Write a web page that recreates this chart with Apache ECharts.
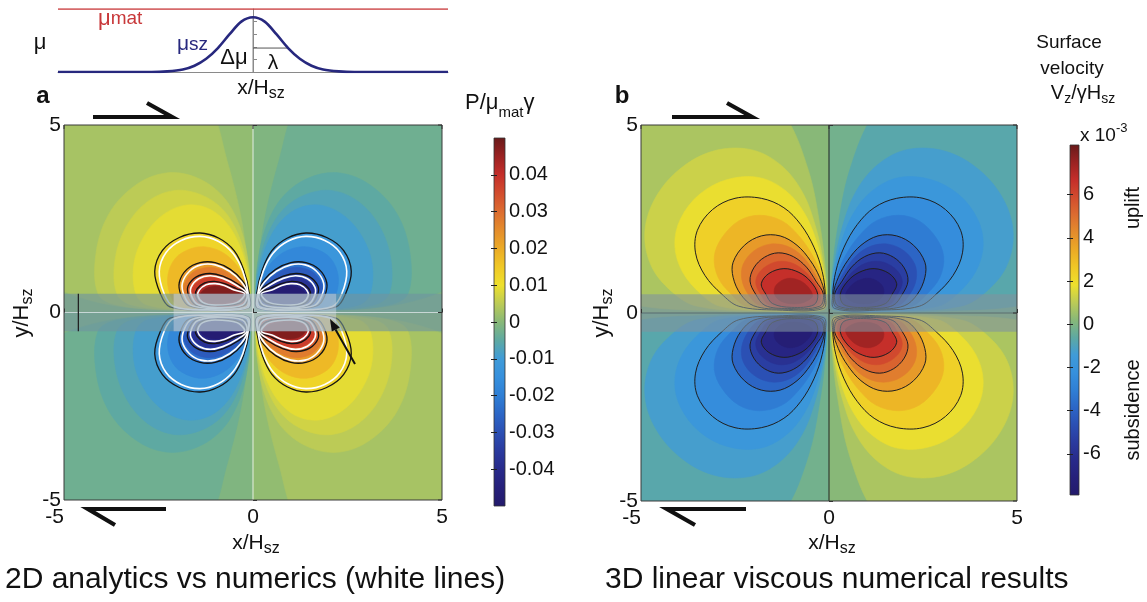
<!DOCTYPE html>
<html><head><meta charset="utf-8">
<script src="https://cdn.jsdelivr.net/npm/echarts@6/dist/echarts.min.js"></script>
<style>html,body{margin:0;padding:0;background:#fff}#c{width:1147px;height:602px}</style>
</head><body><div id="c"></div>
<script>
// ================= DATA =================
// inset: viscosity profile mu(x/Hsz), normalised so that mu_mat = 1
const profileX  = [-5, -2.6, -2.2, -1.8, -1.5, -1.2, -0.9, -0.6, -0.3, 0, 0.3, 0.6, 0.9, 1.2, 1.5, 1.8, 2.2, 2.6, 5];
const profileMu = [0, 0, 0.01, 0.04, 0.1, 0.21, 0.38, 0.6, 0.8, 0.87, 0.8, 0.6, 0.38, 0.21, 0.1, 0.04, 0.01, 0, 0];
const muMat = 1.0;
const muPeak = 0.87;      // top of the bump (delta mu marker)
const halfLevel = 0.38;   // level of lambda marker
const lambdaHalf = 0.9;   // half width lambda

// panel a: P/(mu_mat*gamma) contour levels and contour curves of the upper-left (positive) lobe,
// flat [x, y, x, y ...] lists in x/Hsz, y/Hsz. The other lobes are mirror images in the figure.
const levelsA = [0.002, 0.004, 0.006, 0.008, 0.010, 0.015, 0.020, 0.025, 0.030, 0.035, 0.040, 0.045];
const contoursA = [
  [-0.08,0.5, -0.15,1.4, -0.35,2.7, -0.7,4.1, -1.1,5.4, -2.2,6.8, -4,7.4, -6,6.5, -7.2,4.5, -7,2.4, -5.8,1.0, -4,0.25, -1.5,0.05, -0.15,0.12],
  [-0.08,0.5, -0.12,1.3, -0.35,2.3, -0.8,3.1, -1.5,3.6, -2.3,3.72, -3.1,3.4, -3.8,2.65, -4.15,1.6, -4.1,0.5, -3.6,0.2, -2,0.06, -0.15,0.1],
  [-0.08,0.5, -0.14,1.2, -0.4,2.1, -0.8,2.75, -1.4,3.15, -2.1,3.25, -2.8,2.95, -3.35,2.3, -3.65,1.4, -3.6,0.5, -3.2,0.2, -1.8,0.06, -0.15,0.1],
  [-0.08,0.5, -0.15,1.1, -0.38,1.85, -0.75,2.45, -1.25,2.8, -1.85,2.85, -2.45,2.55, -2.9,2.0, -3.15,1.3, -3.1,0.5, -2.8,0.2, -1.6,0.07, -0.15,0.1],
  [-0.1,0.52, -0.25,1.15, -0.5,1.65, -0.9,1.98, -1.4,2.12, -1.95,2.0, -2.4,1.65, -2.6,1.1, -2.45,0.5, -2.2,0.15, -1.2,0.06, -0.12,0.12],
  [-0.1,0.5, -0.2,0.85, -0.42,1.25, -0.8,1.6, -1.25,1.75, -1.65,1.7, -2.05,1.45, -2.25,1.0, -2.2,0.5, -1.95,0.16, -1.1,0.07, -0.13,0.12],
  [-0.11,0.5, -0.28,0.85, -0.6,1.15, -1.0,1.33, -1.4,1.33, -1.75,1.15, -1.95,0.8, -1.9,0.45, -1.7,0.18, -1.0,0.09, -0.15,0.14],
  [-0.12,0.5, -0.3,0.76, -0.6,1.02, -0.95,1.18, -1.3,1.19, -1.62,1.05, -1.82,0.75, -1.8,0.45, -1.6,0.19, -1.0,0.1, -0.2,0.16],
  [-0.13,0.5, -0.4,0.76, -0.8,0.97, -1.15,1.04, -1.5,0.95, -1.72,0.7, -1.7,0.45, -1.52,0.2, -1.0,0.12, -0.25,0.18],
  [-0.15,0.5, -0.4,0.7, -0.75,0.86, -1.08,0.93, -1.38,0.87, -1.6,0.67, -1.62,0.45, -1.45,0.22, -1.0,0.15, -0.3,0.22],
  [-0.17,0.5, -0.45,0.64, -0.75,0.77, -1.02,0.83, -1.28,0.79, -1.48,0.63, -1.52,0.45, -1.38,0.25, -1.0,0.18, -0.35,0.25],
  [-0.25,0.5, -0.5,0.6, -0.8,0.68, -1.05,0.7, -1.28,0.62, -1.4,0.47, -1.3,0.3, -1.0,0.24, -0.5,0.3]
];
const blackIdxA = [4, 6, 8, 10];            // analytic contours 0.01 .. 0.04 (black)
const whiteContoursA = [                    // numerical contours 0.01 .. 0.04 (white)
  [-0.13,0.52, -0.27,1.1, -0.53,1.58, -0.92,1.9, -1.4,2.03, -1.9,1.92, -2.3,1.6, -2.48,1.1, -2.35,0.5, -2.1,0.16, -1.2,0.07, -0.15,0.13],
  [-0.14,0.5, -0.31,0.82, -0.62,1.1, -1.0,1.27, -1.38,1.27, -1.68,1.1, -1.87,0.78, -1.82,0.45, -1.63,0.19, -1.0,0.1, -0.18,0.15],
  [-0.16,0.5, -0.43,0.72, -0.8,0.91, -1.13,0.98, -1.44,0.9, -1.64,0.67, -1.63,0.45, -1.47,0.22, -1.0,0.13, -0.28,0.2],
  [-0.22,0.5, -0.5,0.6, -0.76,0.72, -1.0,0.77, -1.24,0.74, -1.42,0.6, -1.46,0.45, -1.33,0.27, -1.0,0.2, -0.42,0.27]
];
const bgA = 0.001;

// panel b: surface velocity Vz/(gamma Hsz) in units of 1e-3
const levelsB = [0.5, 1.0, 1.5, 2.0, 2.75, 3.5, 4.25, 5.0, 5.6, 6.3, 7.0];
const contoursB = [
  [-0.06,0.5, -0.08,1.0, -0.22,2.2, -0.55,3.8, -1.2,5.3, -2.2,6.2, -3.5,6.4, -5,5.8, -6.2,4.6, -6.8,3.0, -6.7,1.5, -5.8,0.4, -3,0.05, -0.15,0.08],
  [-0.07,0.5, -0.13,1.2, -0.33,2.2, -0.7,3.2, -1.3,3.95, -2.1,4.35, -3.1,4.3, -4.0,3.8, -4.65,3.0, -4.9,2.1, -4.7,1.2, -4.1,0.5, -3.5,0.18, -2,0.05, -0.15,0.1],
  [-0.08,0.5, -0.13,1.0, -0.3,1.8, -0.65,2.65, -1.15,3.25, -1.85,3.6, -2.7,3.55, -3.45,3.15, -3.95,2.5, -4.1,1.8, -3.9,1.1, -3.4,0.5, -2.9,0.18, -1.6,0.06, -0.15,0.1],
  [-0.1,0.5, -0.18,1.1, -0.4,1.75, -0.75,2.35, -1.2,2.8, -1.8,3.05, -2.5,3.05, -3.1,2.75, -3.5,2.2, -3.55,1.6, -3.3,1.0, -2.85,0.5, -2.4,0.18, -1.4,0.08, -0.15,0.12],
  [-0.1,0.5, -0.2,1.0, -0.45,1.55, -0.8,2.05, -1.25,2.45, -1.85,2.6, -2.4,2.45, -2.85,2.0, -3.05,1.5, -2.95,0.95, -2.6,0.5, -2.2,0.18, -1.3,0.09, -0.17,0.14],
  [-0.12,0.5, -0.25,0.95, -0.5,1.4, -0.85,1.8, -1.3,2.05, -1.8,2.05, -2.25,1.8, -2.55,1.35, -2.55,0.95, -2.35,0.5, -2.0,0.19, -1.2,0.1, -0.2,0.15],
  [-0.13,0.5, -0.22,0.75, -0.42,1.12, -0.72,1.52, -1.12,1.78, -1.58,1.83, -2.0,1.65, -2.28,1.3, -2.32,0.9, -2.15,0.5, -1.85,0.2, -1.15,0.11, -0.22,0.16],
  [-0.15,0.5, -0.35,0.85, -0.6,1.22, -0.95,1.5, -1.35,1.6, -1.72,1.48, -2.0,1.2, -2.1,0.85, -1.95,0.5, -1.7,0.2, -1.1,0.12, -0.25,0.18],
  [-0.22,0.5, -0.42,0.86, -0.7,1.16, -1.05,1.35, -1.45,1.35, -1.82,1.12, -1.95,0.82, -1.82,0.5, -1.6,0.22, -1.05,0.13, -0.32,0.2],
  [-0.3,0.5, -0.5,0.85, -0.8,1.08, -1.2,1.18, -1.6,1.05, -1.8,0.78, -1.68,0.5, -1.5,0.25, -1.0,0.15, -0.4,0.22],
  [-0.45,0.42, -0.5,0.62, -0.75,0.85, -1.1,0.92, -1.4,0.75, -1.45,0.5, -1.25,0.3, -0.8,0.25]
];
const blackIdxB = [3, 5, 7, 9];
const bgB = 0.2;

// colour bars
const cbRangeA = [-0.05, 0.05];
const cbTicksA = [-0.04, -0.03, -0.02, -0.01, 0, 0.01, 0.02, 0.03, 0.04];
const cbRangeB = [-7.9, 8.3];
const cbTicksB = [-6, -4, -2, 0, 2, 4, 6];
const axisTicks = [-5, 0, 5];

// weak zone band and transform segment (panel a)
const weakZone = [-0.5, 0.5];
const transformA = [-2.1, 2.2];
const hszBarX = -4.62;

// colormap (jet-like, as printed), 21 evenly spaced stops from min to max
const cmap = ['#231a6b','#26207a','#282a8a','#2a3a9e','#2b4fb3','#2c66c6','#2f7fd5','#3690dd','#3f9bd8','#5ea9a2',
              '#88b878','#bccb56','#eee02c','#f0c826','#ebaa26','#e48c2c','#dc6c30','#d24c2e','#c42e2a','#9a2222','#681a1a'];

// ================= RENDER =================
const FONT = "'Liberation Sans', Arial, Helvetica, sans-serif";
const mctx = document.createElement('canvas').getContext('2d');
function tw(t, size, weight) { mctx.font = (weight || 'normal') + ' ' + size + 'px ' + FONT; return mctx.measureText(t).width; }
function comp(cx, cy, parts, opt) {
  opt = opt || {};
  const widths = parts.map(p => tw(p[0], p[1], p[4]));
  const total = widths.reduce((a, b) => a + b, 0);
  let x = opt.align === 'left' ? 0 : -total / 2;
  const children = parts.map((p, i) => {
    const el = {type: 'text', x: x, y: p[2] || 0, style: {text: p[0], fontSize: p[1], fontFamily: FONT, fontWeight: p[4] || 'normal',
      fill: p[3] || '#111', align: 'left', verticalAlign: 'middle', textAlign: 'left', textVerticalAlign: 'middle'}};
    x += widths[i];
    return el;
  });
  return {type: 'group', x: cx, y: cy, rotation: opt.rot || 0, children: children};
}

const QUADS = [[1, 1, 1], [-1, 1, -1], [1, -1, -1], [-1, -1, 1]];
const QUAD_RECT = [0, 0, -7, 0, -7, 7, 0, 7];

function fillData(levels, bg) {
  const d = [];
  QUADS.forEach((q, qi) => d.push([qi, -1, q[2] * bg]));
  levels.forEach((lv, i) => {
    const next = i + 1 < levels.length ? levels[i + 1] : lv + (lv - levels[i - 1]);
    const v = (lv + next) / 2;
    QUADS.forEach((q, qi) => d.push([qi, i, q[2] * v]));
  });
  return d;
}
function mapPts(api, q, src) {
  const pts = [];
  for (let k = 0; k < src.length; k += 2) pts.push(api.coord([q[0] * src[k], q[1] * src[k + 1]]));
  return pts;
}
function fillRender(contours) {
  return function (params, api) {
    const q = QUADS[api.value(0)], ci = api.value(1);
    const src = ci < 0 ? QUAD_RECT : contours[ci];
    const c = api.visual('color');
    return {type: 'polygon', shape: {points: mapPts(api, q, src), smooth: ci < 0 ? 0 : 0.35},
      style: {fill: c, stroke: c, lineWidth: 0.6}};
  };
}
function lineData(blackIdx, nWhite) {
  const d = [];
  blackIdx.forEach(ci => QUADS.forEach((q, qi) => d.push([qi, ci, 0])));
  for (let w = 0; w < nWhite; w++) QUADS.forEach((q, qi) => d.push([qi, w, 1]));
  return d;
}
function lineRender(contours, whites, blackColor, blackWidth) {
  return function (params, api) {
    const q = QUADS[api.value(0)], ci = api.value(1), kind = api.value(2);
    const src = kind === 0 ? contours[ci] : whites[ci];
    return {type: 'polygon', shape: {points: mapPts(api, q, src), smooth: 0.35},
      style: {fill: 'none', stroke: kind === 0 ? blackColor : '#ffffff', lineWidth: kind === 0 ? blackWidth : 1.6}};
  };
}
function overlayRender(panel) {
  return function (params, api) {
    const k = api.value(0);
    if (k === 0) { // weak zone band
      const a = api.coord([-5, weakZone[1]]), b = api.coord([5, weakZone[0]]);
      return {type: 'rect', shape: {x: a[0], y: a[1], width: b[0] - a[0], height: b[1] - a[1]},
        style: {fill: panel === 'a' ? 'rgba(112,148,160,0.62)' : 'rgba(128,146,158,0.6)'}};
    }
    if (k === 1) { // transform segment (lighter)
      const a = api.coord([transformA[0], weakZone[1]]), b = api.coord([transformA[1], weakZone[0]]);
      return {type: 'rect', shape: {x: a[0], y: a[1], width: b[0] - a[0], height: b[1] - a[1]},
        style: {fill: 'rgba(214,218,230,0.45)'}};
    }
    if (k === 2) { // x = 0 line
      const a = api.coord([0, 5]), b = api.coord([0, -5]);
      return {type: 'line', shape: {x1: a[0], y1: a[1], x2: b[0], y2: b[1]},
        style: {stroke: panel === 'a' ? 'rgba(240,244,240,0.9)' : '#222', lineWidth: 1}};
    }
    if (k === 3) { // y = 0 line
      const a = api.coord([-5, 0]), b = api.coord([5, 0]);
      return {type: 'line', shape: {x1: a[0], y1: a[1], x2: b[0], y2: b[1]},
        style: {stroke: panel === 'a' ? 'rgba(225,232,236,0.75)' : 'rgba(80,96,104,0.8)', lineWidth: 1}};
    }
    if (k === 4) { // Hsz bar
      const a = api.coord([hszBarX, weakZone[1]]), b = api.coord([hszBarX, weakZone[0]]);
      return {type: 'line', shape: {x1: a[0], y1: a[1], x2: b[0], y2: b[1]}, style: {stroke: '#222', lineWidth: 1.3}};
    }
    // frame + ticks on the top and right edges
    const a = api.coord([-5, 5]), b = api.coord([5, -5]);
    const children = [{type: 'rect', shape: {x: a[0], y: a[1], width: b[0] - a[0], height: b[1] - a[1]},
      style: {fill: 'none', stroke: '#3a3a3a', lineWidth: 1}}];
    axisTicks.forEach(t => {
      const pt = api.coord([t, 5]), pr = api.coord([5, t]);
      children.push({type: 'line', shape: {x1: pt[0], y1: pt[1], x2: pt[0], y2: pt[1] + 4}, style: {stroke: '#333', lineWidth: 1}});
      children.push({type: 'line', shape: {x1: pr[0], y1: pr[1], x2: pr[0] - 4, y2: pr[1]}, style: {stroke: '#333', lineWidth: 1}});
    });
    return {type: 'group', children: children};
  };
}
function cbRender(range) {
  return function (params, api) {
    const a = api.coord([0, range[1]]), b = api.coord([1, range[0]]);
    const stops = cmap.slice().reverse().map((c, i, arr) => ({offset: i / (arr.length - 1), color: c}));
    return {type: 'rect', shape: {x: a[0], y: a[1], width: b[0] - a[0], height: b[1] - a[1]},
      style: {fill: new echarts.graphic.LinearGradient(0, 0, 0, 1, stops), stroke: '#333', lineWidth: 0.8}};
  };
}

const lab = {fontSize: 21, fontFamily: FONT, color: '#111'};
function panelX(grid) {
  return {gridIndex: grid, type: 'value', min: -5, max: 5, z: 10,
    axisLine: {show: false}, splitLine: {show: false},
    axisTick: {show: true, inside: true, length: 4, customValues: axisTicks, lineStyle: {color: '#333'}},
    axisLabel: Object.assign({customValues: axisTicks, margin: 7, alignMinLabel: 'right'}, lab)};
}
function panelY(grid) {
  return {gridIndex: grid, type: 'value', min: -5, max: 5, z: 10,
    axisLine: {show: false}, splitLine: {show: false},
    axisTick: {show: true, inside: true, length: 4, customValues: axisTicks, lineStyle: {color: '#333'}},
    axisLabel: Object.assign({customValues: axisTicks, margin: 3}, lab)};
}
function cbY(grid, range, ticks, fmt, pos) {
  const right = pos === 'right';
  return {gridIndex: grid, type: 'value', min: range[0], max: range[1], position: pos, z: 10,
    axisLine: {show: false}, splitLine: {show: false},
    axisTick: {show: true, inside: true, length: 3, customValues: ticks, lineStyle: {color: '#222', width: 1}},
    axisLabel: Object.assign({show: right, customValues: ticks, margin: 4, formatter: fmt}, lab, {fontSize: 20})};
}
const hiddenX = g => ({gridIndex: g, type: 'value', min: 0, max: 1, show: false});

const chart = echarts.init(document.getElementById('c'), null, {renderer: 'canvas'});
const NONE = {outerBoundsMode: 'none'};
const option = {
  backgroundColor: '#ffffff',
  animation: false,
  grid: [
    Object.assign({left: 58, top: 9, width: 390, height: 63}, NONE),
    Object.assign({left: 64, top: 125, width: 378, height: 375}, NONE),
    Object.assign({left: 494, top: 138, width: 11, height: 368}, NONE),
    Object.assign({left: 641, top: 125, width: 376, height: 376}, NONE),
    Object.assign({left: 1070, top: 145, width: 9, height: 350}, NONE)
  ],
  xAxis: [
    {gridIndex: 0, type: 'value', min: -5, max: 5, axisLine: {show: true, lineStyle: {color: '#8a8a8a'}},
      axisTick: {show: false}, axisLabel: {show: false}, splitLine: {show: false}},
    panelX(1), hiddenX(2), panelX(3), hiddenX(4)
  ],
  yAxis: [
    {gridIndex: 0, type: 'value', min: 0, max: 1, axisLine: {show: true, lineStyle: {color: '#8a8a8a'}},
      axisTick: {show: true, inside: true, length: 4, customValues: [0.2, 0.4, 0.6, 0.8], lineStyle: {color: '#8a8a8a'}},
      axisLabel: {show: false}, splitLine: {show: false}},
    panelY(1),
    cbY(2, cbRangeA, cbTicksA, v => { const r = Math.round(v * 100) / 100; return r === 0 ? '0' : String(r); }, 'right'),
    panelY(3),
    cbY(4, cbRangeB, cbTicksB, v => String(Math.round(v)), 'right'),
    cbY(2, cbRangeA, cbTicksA, null, 'left'),
    cbY(4, cbRangeB, cbTicksB, null, 'left')
  ],
  visualMap: [
    {type: 'continuous', show: false, seriesIndex: 4, dimension: 2, min: cbRangeA[0], max: cbRangeA[1], inRange: {color: cmap}},
    {type: 'continuous', show: false, seriesIndex: 8, dimension: 2, min: cbRangeB[0], max: cbRangeB[1], inRange: {color: cmap}}
  ],
  series: [
    {type: 'line', xAxisIndex: 0, yAxisIndex: 0, data: profileX.map((x, i) => [x, profileMu[i]]), smooth: 0.3,
      showSymbol: false, lineStyle: {color: '#27287e', width: 2.6}, z: 5},
    {type: 'line', xAxisIndex: 0, yAxisIndex: 0, data: [[-5, muMat], [5, muMat]], showSymbol: false,
      lineStyle: {color: '#c8383a', width: 1.6}, z: 5},
    {type: 'line', xAxisIndex: 0, yAxisIndex: 0, data: [[0, 0], [0, muPeak]], showSymbol: false,
      lineStyle: {color: '#8a8a8a', width: 1}, z: 4},
    {type: 'line', xAxisIndex: 0, yAxisIndex: 0, data: [[0, halfLevel], [lambdaHalf, halfLevel]], showSymbol: false,
      lineStyle: {color: '#555', width: 1}, z: 4},
    {type: 'custom', xAxisIndex: 1, yAxisIndex: 1, clip: true, z: 2, data: fillData(levelsA, bgA), renderItem: fillRender(contoursA)},
    {type: 'custom', xAxisIndex: 1, yAxisIndex: 1, clip: true, z: 3, data: lineData(blackIdxA, whiteContoursA.length),
      renderItem: lineRender(contoursA, whiteContoursA, '#141414', 1.3)},
    {type: 'custom', xAxisIndex: 1, yAxisIndex: 1, clip: false, z: 4, data: [[0], [1], [2], [3], [4], [5]], renderItem: overlayRender('a')},
    {type: 'custom', xAxisIndex: 2, yAxisIndex: 2, clip: false, z: 4, data: [[0]], renderItem: cbRender(cbRangeA)},
    {type: 'custom', xAxisIndex: 3, yAxisIndex: 3, clip: true, z: 2, data: fillData(levelsB, bgB), renderItem: fillRender(contoursB)},
    {type: 'custom', xAxisIndex: 3, yAxisIndex: 3, clip: true, z: 3, data: lineData(blackIdxB, 0),
      renderItem: lineRender(contoursB, [], '#202020', 1)},
    {type: 'custom', xAxisIndex: 3, yAxisIndex: 3, clip: false, z: 4, data: [[0], [2], [3], [5]], renderItem: overlayRender('b')},
    {type: 'custom', xAxisIndex: 4, yAxisIndex: 4, clip: false, z: 4, data: [[0]], renderItem: cbRender(cbRangeB)}
  ],
  graphic: []
};

// ---- annotations / labels ----
const G = [];
const arrow = pts => ({type: 'polyline', shape: {points: pts}, style: {stroke: '#111', lineWidth: 4.2, fill: 'none', lineJoin: 'miter'}, z: 20});
G.push(arrow([[93, 117], [172, 117], [147, 103]]));
G.push(arrow([[166, 509], [88, 509], [115, 525]]));
G.push(arrow([[672, 117], [752, 117], [727, 103]]));
G.push(arrow([[746, 509], [667, 509], [695, 525]]));
// transform arrow
G.push({type: 'line', shape: {x1: 355, y1: 364, x2: 335.5, y2: 329.5}, style: {stroke: '#111', lineWidth: 2}, z: 20});
G.push({type: 'polygon', shape: {points: [[330, 319], [339.8, 327.4], [331.8, 331.6]]}, style: {fill: '#111'}, z: 20});

// inset labels
G.push(comp(40, 43, [['μ', 22]]));
G.push(comp(98, 19, [['μ', 22, 0, '#c8383a'], ['mat', 19, 0, '#c8383a']], {align: 'left'}));
G.push(comp(177, 44, [['μ', 21, 0, '#27287e'], ['sz', 19, 1, '#27287e']], {align: 'left'}));
G.push(comp(234, 58, [['Δμ', 22]]));
G.push(comp(273, 63, [['λ', 21]]));
G.push(comp(261, 88, [['x/H', 21], ['sz', 16, 6]]));
// panel letters
G.push(comp(43, 96, [['a', 24, 0, '#111', 'bold']]));
G.push(comp(622, 96, [['b', 24, 0, '#111', 'bold']]));
// axis names
G.push(comp(256, 543, [['x/H', 21], ['sz', 16, 6]]));
G.push(comp(832, 543, [['x/H', 21], ['sz', 16, 6]]));
G.push(comp(22, 313, [['y/H', 22], ['sz', 16, 6]], {rot: Math.PI / 2}));
G.push(comp(602, 313, [['y/H', 22], ['sz', 16, 6]], {rot: Math.PI / 2}));
// panel a annotations
G.push(comp(90, 311, [['H', 24], ['sz', 17, 7]], {align: 'left'}));
G.push(comp(391, 312, [['weak zone', 19]]));
G.push(comp(369, 372, [['transform', 19]]));
G.push(comp(337, 485, [['matrix ', 18], ['μ', 22], ['mat', 18]], {align: 'left'}));
// colour bar titles
G.push(comp(465, 103, [['P/μ', 22], ['mat', 15, 10], ['γ', 22]], {align: 'left'}));
G.push(comp(1069, 43, [['Surface', 19]]));
G.push(comp(1072, 69, [['velocity', 19]]));
G.push(comp(1083, 93, [['V', 20], ['z', 14, 6], ['/γH', 20], ['sz', 14, 6]]));
G.push(comp(1080, 136, [['x 10', 19], ['-3', 13, -8]], {align: 'left'}));
G.push(comp(1133, 208, [['uplift', 20]], {rot: Math.PI / 2}));
G.push(comp(1133, 410, [['subsidence', 20]], {rot: Math.PI / 2}));
// bottom titles
G.push(comp(5, 580, [['2D analytics vs numerics (white lines)', 30]], {align: 'left'}));
G.push(comp(605, 580, [['3D linear viscous numerical results', 30]], {align: 'left'}));

option.graphic = G;
chart.setOption(option);
</script>
</body></html>
